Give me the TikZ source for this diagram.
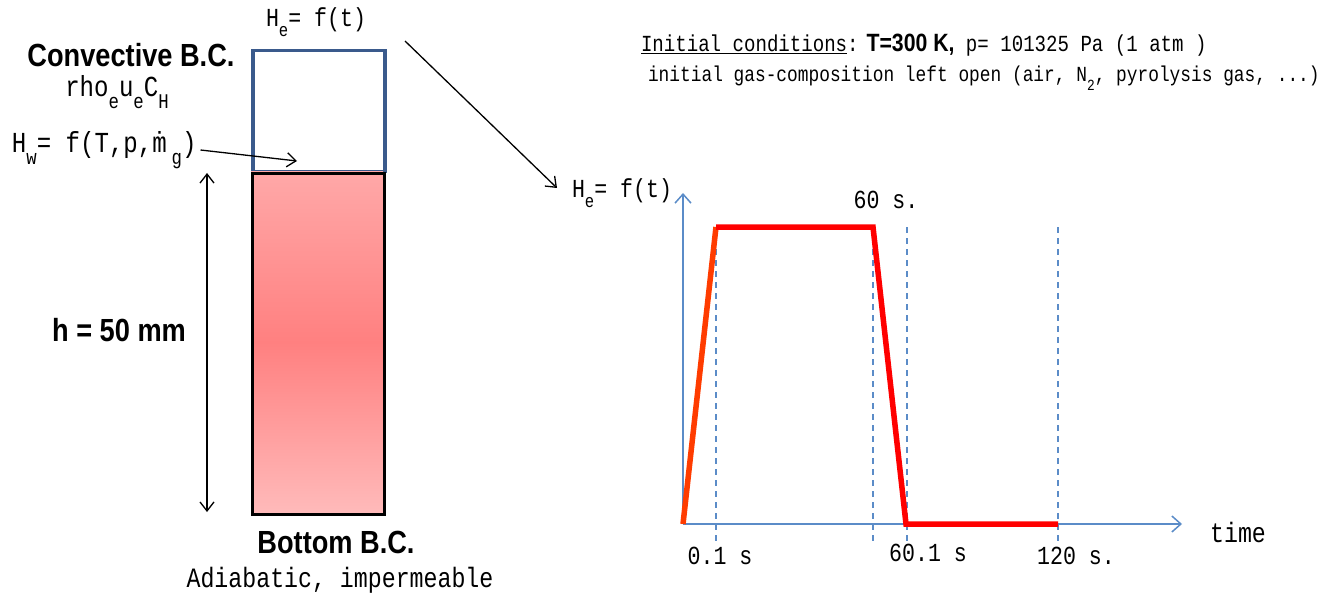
\documentclass[tikz,border=0pt]{standalone}
\usepackage{fontspec}
\setmainfont{Liberation Mono}[FakeStretch=0.83]
\newfontfamily\bsf{Liberation Sans}[FakeStretch=0.85]
\usetikzlibrary{arrows.meta}
\definecolor{boxblue}{RGB}{58,90,140}
\definecolor{axisblue}{RGB}{91,140,200}
\definecolor{pinktop}{RGB}{255,168,168}
\definecolor{pinkmid}{RGB}{255,128,128}
\definecolor{pinkbot}{RGB}{255,186,186}
\definecolor{orangered}{RGB}{255,60,0}
\newcommand{\sz}[1]{\fontsize{#1}{#1}\selectfont}
\newcommand{\sbs}[1]{\raisebox{-0.4em}{\scalebox{0.72}{#1}}}
\tikzset{
  txt/.style={inner sep=0pt, outer sep=0pt, text=black},
  bold/.style={txt, font=\bsf\bfseries\sz{32}},
  barb/.style={-{Straight Barb[length=9pt,width=14pt]}, line width=1.3pt},
  axis/.style={draw=axisblue, line width=1.5pt, -{Straight Barb[length=9pt,width=16pt]}},
  guide/.style={draw=axisblue, line width=1.3pt, dash pattern=on 6pt off 5pt},
  curve/.style={draw=red, line width=5.5pt, line join=miter},
}
\begin{document}
\begin{tikzpicture}[x=1pt,y=-1pt]
\useasboundingbox[fill=white] (0,0) rectangle (1340,596);
% ---- specimen ----
\node[draw=boxblue, line width=3.5pt, minimum width=132pt, minimum height=121pt, inner sep=0pt, anchor=north west] (gas) at (251,49) {};
\shade[top color=pinktop, bottom color=pinkbot, middle color=pinkmid] (251,172) rectangle (383,513);
\node[draw=black, line width=3pt, minimum width=132pt, minimum height=341pt, inner sep=0pt, anchor=north west] (solid) at (251,172) {};
\node[txt, font=\sz{26}] (hetop) at (316,22) {H\sbs{e}= f(t)};
\node[bold] (conv) at (131,55) {Convective B.C.};
\node[txt, font=\sz{29}] (rho) at (117,92) {rho\sbs{e}u\sbs{e}C\sbs{H}};
\node[txt, font=\sz{29}, anchor=west] (hw) at (12,150) {H\sbs{w}= f(T,p,\.m\,\sbs{g})};
\coordinate (hwtip) at (297,161);
\draw[barb] (hw.east) ++(4pt,0) -- (hwtip);
\coordinate (htop) at (207,173);
\coordinate (hbot) at (207,512);
\draw[{Straight Barb[length=9pt,width=14pt]}-{Straight Barb[length=9pt,width=14pt]}, line width=1.3pt] (htop) -- (hbot);
\node[bold] (hlab) at (119,330) {h = 50 mm};
\node[bold] (bot) at (336,542) {Bottom B.C.};
\node[txt, font=\sz{28}] (adia) at (340,580) {Adiabatic, impermeable};
% ---- initial conditions ----
\node[txt, font=\sz{23}, anchor=west] (init1) at (641,45) {\underline{Initial conditions}:{\bsf\bfseries\sz{25} T=300 K,} p= 101325 Pa (1 atm )};
\node[txt, font=\sz{21.5}, anchor=west] (init2) at (648,78) {initial gas-composition left open (air, N\sbs{2}, pyrolysis gas, ...)};
% ---- graph ----
\node[txt, font=\sz{26}] (hegr) at (622,193) {H\sbs{e}= f(t)};
\coordinate (lfrom) at (405,41);
\coordinate (lto) at (557,188);
\draw[barb] (lfrom) -- (lto);
\coordinate (O) at (683,524);
\coordinate (ytop) at (683,193);
\coordinate (xend) at (1182,524);
\draw[axis] (O) -- (ytop);
\draw[axis] (O) -- (xend);
\node[txt, font=\sz{28}] (time) at (1238,532) {time};
\coordinate (p1) at (716,227);
\coordinate (p2) at (873,227);
\coordinate (p3) at (906,524);
\coordinate (p4) at (1058,524);
\draw[guide] (716,227) -- (716,542);
\draw[guide] (873,227) -- (873,542);
\draw[guide] (907,227) -- (907,542);
\draw[guide] (1058,227) -- (1058,542);
\draw[draw=orangered, line width=5.5pt] (O) -- (p1);
\draw[curve] (p1) -- (p2) -- (p3) -- (p4);
\node[txt, font=\sz{26}] (t01) at (720,556) {0.1 s};
\node[txt, font=\sz{26}] (t60) at (886,200) {60 s.};
\node[txt, font=\sz{26}] (t601) at (928,553) {60.1 s};
\node[txt, font=\sz{26}] (t120) at (1076,556) {120 s.};
\end{tikzpicture}
\end{document}
